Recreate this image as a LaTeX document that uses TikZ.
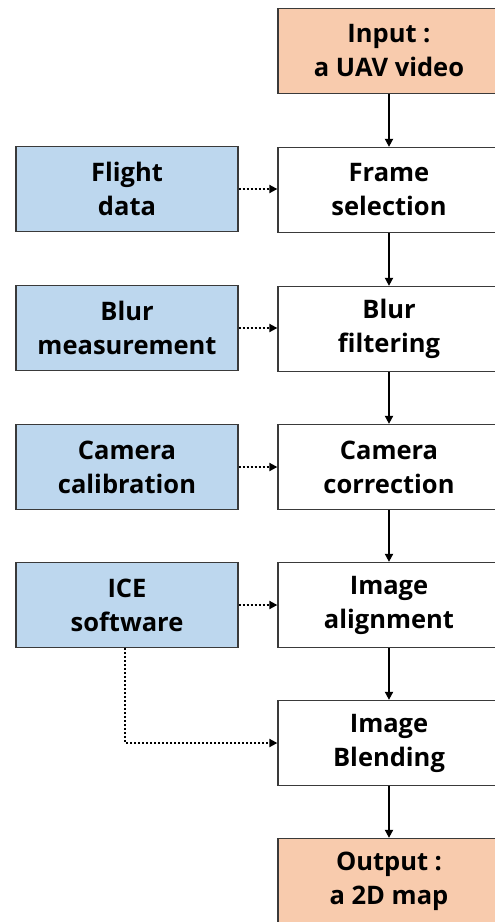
\documentclass[tikz,border=0pt]{standalone}
\usepackage{fontspec}
\setmainfont{Open Sans}
\usetikzlibrary{arrows.meta,positioning}
\definecolor{ioFill}{HTML}{F8CBAD}
\definecolor{auxFill}{HTML}{BDD7EE}
\definecolor{edge}{HTML}{3A3A3A}
\tikzset{
  box/.style={draw=edge, line width=1.3pt, rectangle, minimum width=222pt, minimum height=85pt,
    align=center, inner sep=0pt, font=\fontsize{25.5pt}{34pt}\selectfont\bfseries},
  iobox/.style={box, fill=ioFill},
  auxbox/.style={box, fill=auxFill},
  stepbox/.style={box, fill=white},
  flow/.style={line width=1.8pt, -{Triangle[length=8pt,width=8pt]}},
  aux/.style={line width=1.8pt, dash pattern=on 2pt off 2pt, -{Triangle[length=8pt,width=8pt]}},
}
\begin{document}
\begin{tikzpicture}[x=1pt,y=-1pt]
\useasboundingbox (0,0) rectangle (495,922);
\clip (0,0) rectangle (495,922);
% main processing column
\node[iobox]   (in)    at (389,51)  {Input :\\a UAV video};
\node[stepbox] (frame) at (389,190) {Frame\\selection};
\node[stepbox] (blur)  at (389,329) {Blur\\filtering};
\node[stepbox] (cam)   at (389,467) {Camera\\correction};
\node[stepbox] (align) at (389,605) {Image\\alignment};
\node[stepbox] (blend) at (389,743) {Image\\Blending};
\node[iobox]   (out)   at (389,881) {Output :\\a 2D map};
% auxiliary inputs
\node[auxbox] (flight) at (127,189) {Flight\\data};
\node[auxbox] (bmeas)  at (127,328) {Blur\\measurement};
\node[auxbox] (ccal)   at (127,467) {Camera\\calibration};
\node[auxbox] (ice)    at (127,605) {ICE\\software};
% connectors
\draw[flow] (in) -- (frame);
\draw[flow] (frame) -- (blur);
\draw[flow] (blur) -- (cam);
\draw[flow] (cam) -- (align);
\draw[flow] (align) -- (blend);
\draw[flow] (blend) -- (out);
\draw[aux] (flight.east) -- (flight.east -| frame.west);
\draw[aux] (bmeas.east) -- (bmeas.east -| blur.west);
\draw[aux] (ccal.east) -- (ccal.east -| cam.west);
\draw[aux] (ice.east) -- (ice.east -| align.west);
\coordinate (bend) at ([xshift=-2pt]ice.south |- blend.west);
\draw[aux] ([xshift=-2pt]ice.south) -- (bend) -- (blend.west);
\end{tikzpicture}
\end{document}
